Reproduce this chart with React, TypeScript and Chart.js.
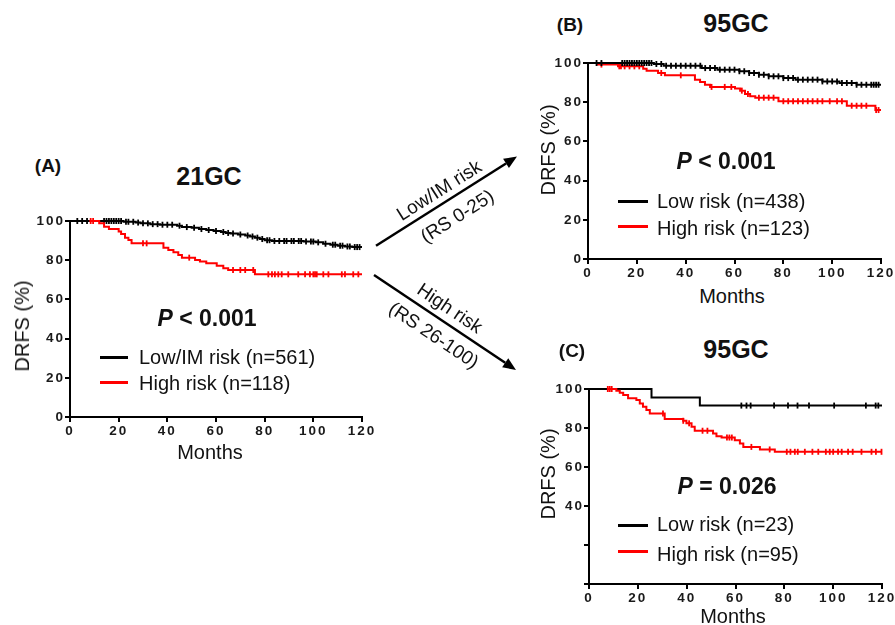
import React, { useEffect, useRef } from 'react';
import { Chart, registerables } from 'chart.js';

Chart.register(...registerables);

const FONT = '"Liberation Sans", Arial, Helvetica, sans-serif';
const BLACK = '#000000';
const RED = '#ff0000';

// ---------- Panel A (21GC) ----------
const aLowTimes = [0, 22, 27, 29, 33, 37, 44, 46, 50, 53, 56, 59, 62, 64, 66, 69, 72, 74, 76, 78, 80, 83, 96, 101, 104, 107, 110, 113, 116, 120];
const aLowSurv = [100, 99.6, 99.2, 98.8, 98.4, 98.1, 97.6, 96.9, 96.5, 95.9, 95.4, 94.9, 94.4, 93.9, 93.6, 93.1, 92.6, 92.1, 91.5, 90.8, 90.2, 89.8, 89.5, 89.1, 88.4, 87.9, 87.4, 87.0, 86.7, 86.7];
const aLowCensor = [3, 5, 7, 14, 15, 16, 17, 18, 19, 20, 21, 23, 24, 26, 28, 30, 32, 34, 36, 38, 40, 42, 45, 48, 51, 54, 57, 60, 63, 65, 67, 70, 73, 75, 77, 79, 81, 82, 84, 86, 88, 89, 91, 92, 94, 95, 97, 99, 100, 102, 105, 108, 109, 111, 112, 114, 115, 117, 118, 119];

const aHighTimes = [8, 12, 14, 16, 20, 21, 22.6, 24, 25.3, 38.4, 40.4, 42.5, 44.5, 46, 51.4, 53.4, 56, 60.3, 63, 65, 76, 120];
const aHighSurv = [100, 98.8, 97.1, 95.9, 94.6, 93.4, 91.5, 90.3, 88.6, 86.4, 85.2, 84, 82.7, 81.3, 80.1, 79.3, 78.4, 77.2, 75.9, 75, 72.8, 72.8];
const aHighCensor = [8.5, 9.5, 30, 31.5, 49, 67, 70, 72, 75.3, 81.5, 83, 84.2, 85.6, 87, 89.7, 93.8, 96.6, 98.6, 100, 100.7, 101.4, 104.1, 106.2, 111.7, 113, 116.4, 118.5];

// ---------- Panel B (95GC, Low/IM by 21GC) ----------
const bLowTimes = [0, 27, 31, 46.6, 53, 62, 66, 70, 74, 80, 85, 96, 103, 110, 120];
const bLowSurv = [100, 99.5, 98.6, 97.4, 96.6, 95.8, 94.9, 94.0, 93.2, 92.3, 91.5, 90.6, 89.8, 88.9, 88.9];
const bLowCensor = [3.5, 5.5, 14, 15, 16, 17, 18, 19, 20, 21, 22, 23, 24, 25, 26, 28, 30, 32, 34, 36, 38, 40, 42, 44, 46, 48, 50, 52, 54, 56, 58, 60, 62, 64, 66, 68, 70, 72, 74, 76, 78, 80, 82, 84, 86, 88, 90, 92, 94, 96, 98, 100, 102, 104, 106, 108, 110, 112, 114, 116, 117, 118, 119];

const bHighTimes = [0, 4, 12.3, 22.6, 24, 28.7, 31.5, 43.8, 45.9, 47.9, 50, 60.2, 62.3, 64.3, 66.4, 68.5, 78, 106, 117.7, 120];
const bHighSurv = [100, 99.2, 98.3, 97.1, 96, 94.9, 93.7, 91.5, 90.3, 88.9, 87.8, 87, 85.9, 84.2, 83, 82.3, 80.5, 78.2, 76, 76];
const bHighCensor = [5.5, 12.8, 13.5, 15, 17, 19, 21, 30, 38, 50.6, 56, 58.7, 63, 65.5, 70, 72, 74, 76, 80, 82, 84, 86, 88, 90, 92, 94, 96, 99, 102, 104, 108, 110, 112, 114, 118, 119];

// ---------- Panel C (95GC, High by 21GC) ----------
const cLowTimes = [0, 25.6, 45.4, 120];
const cLowSurv = [100, 95.7, 91.5, 91.5];
const cLowCensor = [62.4, 64.5, 66.2, 75.8, 81.5, 85.4, 90.1, 100.4, 113.4, 117.4, 118.5];

const cHighTimes = [7.7, 11.2, 12.6, 14, 16, 19.4, 20.8, 22.1, 23.5, 24.9, 31, 38.6, 39.9, 42, 43.3, 50.8, 52.2, 54.3, 59.7, 61.8, 63.2, 70, 76.1, 120];
const cHighSurv = [100, 99.1, 98.1, 96.9, 95.2, 94.4, 92.6, 90.9, 89.2, 87.5, 84.6, 83.7, 82.4, 80.7, 78.6, 77.2, 75.8, 75.1, 73.7, 72, 70.3, 69, 67.8, 67.8];
const cHighCensor = [7.7, 8.5, 9.3, 30.3, 38.6, 41, 46.5, 48.5, 56.5, 57.5, 58.5, 66.5, 74, 81, 82.5, 84.3, 85.5, 88.4, 91.5, 93.9, 97, 98.6, 100, 102, 103.5, 106.1, 108, 111.6, 115.7, 117.5, 119.8];

// axis ranges
const X_MIN = 0, X_MAX = 120, X_STEP = 20;
const Y_MIN = 0, Y_MAX = 100, Y_STEP = 20;

type Curve = { times: number[]; surv: number[]; censor: number[]; color: string };

function survAt(times: number[], surv: number[], t: number) {
  let v = surv[0];
  for (let i = 0; i < times.length; i++) {
    if (times[i] <= t) v = surv[i];
    else break;
  }
  return v;
}

function buildDatasets(curves: Curve[]) {
  // first curve is drawn on top
  const ds: any[] = [];
  curves.forEach((c) => {
    ds.push({
      type: 'scatter',
      data: c.censor.map((t) => ({ x: t, y: survAt(c.times, c.surv, t) })),
      pointStyle: 'line',
      pointRotation: 90,
      pointRadius: 3,
      pointHoverRadius: 3,
      pointBorderColor: c.color,
      pointBackgroundColor: c.color,
      pointBorderWidth: 1.8,
      showLine: false,
      clip: false,
    });
    ds.push({
      type: 'line',
      data: c.times.map((t, i) => ({ x: t, y: c.surv[i] })),
      stepped: true,
      borderColor: c.color,
      borderWidth: 2,
      pointRadius: 0,
      pointHoverRadius: 0,
      fill: false,
      clip: false,
    });
  });
  return ds;
}

const TICK_FONT = { family: FONT, size: 13.5, weight: 'bold' as const };

function axisOpts(min: number, max: number, step: number, size: number, isY: boolean, labelMin?: number) {
  return {
    type: 'linear' as const,
    min,
    max,
    ticks: {
      stepSize: step,
      color: '#1a1a1a',
      font: TICK_FONT,
      padding: isY ? 0 : 1,
      maxRotation: 0,
      autoSkip: false,
      callback: (v: any) => (labelMin !== undefined && Number(v) < labelMin ? '' : String(v)),
    },
    grid: { drawOnChartArea: false, drawTicks: true, tickLength: 5, color: '#000', lineWidth: 2 },
    border: { display: true, color: '#000', width: 2 },
    afterFit: (s: any) => {
      if (isY) s.width = size;
      else s.height = size;
    },
  };
}

const spacingPlugin = {
  id: 'tickSpacing',
  beforeDraw(chart: any) {
    chart.ctx.letterSpacing = '2px';
  },
  afterDraw(chart: any) {
    chart.ctx.letterSpacing = '0px';
  },
};

type PanelProps = {
  left: number;
  top: number;
  plotW: number;
  plotH: number;
  yW: number;
  xH: number;
  padTop: number;
  padR: number;
  curves: Curve[];
  yLabelMin?: number;
};

function KMPanel(p: PanelProps) {
  const ref = useRef<HTMLCanvasElement | null>(null);
  const width = p.yW + p.plotW + p.padR;
  const height = p.padTop + p.plotH + p.xH;
  useEffect(() => {
    if (!ref.current) return;
    const chart = new Chart(ref.current, {
      type: 'scatter',
      data: { datasets: buildDatasets(p.curves) },
      options: {
        responsive: false,
        animation: false,
        events: [],
        layout: { padding: { top: p.padTop, right: p.padR, left: 0, bottom: 0 } },
        plugins: { legend: { display: false }, tooltip: { enabled: false }, title: { display: false } },
        scales: {
          x: axisOpts(X_MIN, X_MAX, X_STEP, p.xH, false),
          y: axisOpts(Y_MIN, Y_MAX, Y_STEP, p.yW, true, p.yLabelMin),
        },
      } as any,
      plugins: [spacingPlugin],
    });
    return () => chart.destroy();
  }, []);
  return (
    <canvas
      ref={ref}
      width={width}
      height={height}
      style={{ position: 'absolute', left: p.left, top: p.top, width, height }}
    />
  );
}

type TProps = {
  x: number;
  y: number;
  size?: number;
  bold?: boolean;
  rot?: number;
  align?: 'center' | 'left';
  children: React.ReactNode;
};

function T({ x, y, size = 20, bold = false, rot = 0, align = 'center', children }: TProps) {
  const tx = align === 'center' ? '-50%' : '0';
  return (
    <div
      style={{
        position: 'absolute',
        left: x,
        top: y,
        transform: `translate(${tx}, -50%) rotate(${rot}deg)`,
        transformOrigin: align === 'center' ? '50% 50%' : '0 50%',
        fontFamily: FONT,
        fontSize: size,
        fontWeight: bold ? 700 : 400,
        lineHeight: 1,
        whiteSpace: 'nowrap',
        color: '#111',
      }}
    >
      {children}
    </div>
  );
}

function Swatch({ x1, x2, y, color }: { x1: number; x2: number; y: number; color: string }) {
  return (
    <div style={{ position: 'absolute', left: x1, top: y - 1.5, width: x2 - x1, height: 3, background: color }} />
  );
}

function Arrow({ x1, y1, x2, y2 }: { x1: number; y1: number; x2: number; y2: number }) {
  const ang = Math.atan2(y2 - y1, x2 - x1);
  const L = 13;
  const W = 5.5;
  const bx = x2 - L * Math.cos(ang);
  const by = y2 - L * Math.sin(ang);
  const px = -Math.sin(ang) * W;
  const py = Math.cos(ang) * W;
  return (
    <g>
      <line x1={x1} y1={y1} x2={bx} y2={by} stroke="#000" strokeWidth={2.5} />
      <polygon points={`${x2},${y2} ${bx + px},${by + py} ${bx - px},${by - py}`} fill="#000" />
    </g>
  );
}

export default function App() {
  return (
    <div style={{ position: 'absolute', left: 0, top: 0, width: 895, height: 625, background: '#fff', overflow: 'hidden' }}>
      {/* Panel A */}
      <KMPanel
        left={30}
        top={211}
        plotW={292}
        plotH={196}
        yW={40}
        xH={25}
        padTop={10}
        padR={20}
        curves={[
          { times: aHighTimes, surv: aHighSurv, censor: aHighCensor, color: RED },
          { times: aLowTimes, surv: aLowSurv, censor: aLowCensor, color: BLACK },
        ]}
      />
      {/* Panel B */}
      <KMPanel
        left={548}
        top={53}
        plotW={293}
        plotH={196}
        yW={40}
        xH={25}
        padTop={10}
        padR={14}
        curves={[
          { times: bLowTimes, surv: bLowSurv, censor: bLowCensor, color: BLACK },
          { times: bHighTimes, surv: bHighSurv, censor: bHighCensor, color: RED },
        ]}
      />
      {/* Panel C */}
      <KMPanel
        left={549}
        top={379}
        plotW={293}
        plotH={195}
        yW={40}
        xH={25}
        padTop={10}
        padR={13}
        yLabelMin={40}
        curves={[
          { times: cHighTimes, surv: cHighSurv, censor: cHighCensor, color: RED },
          { times: cLowTimes, surv: cLowSurv, censor: cLowCensor, color: BLACK },
        ]}
      />

      {/* Panel A texts */}
      <T x={48} y={165} size={19} bold>(A)</T>
      <T x={209} y={176} size={25} bold>21GC</T>
      <T x={207} y={318} size={23} bold><i>P</i> &lt; 0.001</T>
      <Swatch x1={100} x2={128} y={357.5} color={BLACK} />
      <T x={139} y={357} align="left">Low/IM risk (n=561)</T>
      <Swatch x1={100} x2={128} y={382.5} color={RED} />
      <T x={139} y={383} align="left">High risk (n=118)</T>
      <T x={22} y={326} rot={-90}>DRFS (%)</T>
      <T x={210} y={452}>Months</T>

      {/* Panel B texts */}
      <T x={570} y={24} size={19} bold>(B)</T>
      <T x={736} y={23} size={25} bold>95GC</T>
      <T x={726} y={161} size={23} bold><i>P</i> &lt; 0.001</T>
      <Swatch x1={618} x2={648} y={201.5} color={BLACK} />
      <T x={657} y={201} align="left">Low risk (n=438)</T>
      <Swatch x1={618} x2={648} y={226.5} color={RED} />
      <T x={657} y={228} align="left">High risk (n=123)</T>
      <T x={548} y={150} rot={-90}>DRFS (%)</T>
      <T x={732} y={296}>Months</T>

      {/* Panel C texts */}
      <T x={572} y={350} size={19} bold>(C)</T>
      <T x={736} y={349} size={25} bold>95GC</T>
      <T x={727} y={486} size={23} bold><i>P</i> = 0.026</T>
      <Swatch x1={618} x2={648} y={525} color={BLACK} />
      <T x={657} y={524} align="left">Low risk (n=23)</T>
      <Swatch x1={618} x2={648} y={551} color={RED} />
      <T x={657} y={554} align="left">High risk (n=95)</T>
      <T x={548} y={474} rot={-90}>DRFS (%)</T>
      <T x={733} y={616}>Months</T>

      {/* Arrows */}
      <svg width={895} height={625} style={{ position: 'absolute', left: 0, top: 0, pointerEvents: 'none' }}>
        <Arrow x1={376} y1={245.7} x2={517} y2={156.5} />
        <Arrow x1={374} y1={275} x2={516} y2={370} />
      </svg>
      <T x={439} y={190} size={19} rot={-32.3}>Low/IM risk</T>
      <T x={457} y={216} size={19} rot={-32.3}>(RS 0-25)</T>
      <T x={450} y={308} size={19} rot={33.8}>High risk</T>
      <T x={434} y={335} size={19} rot={33.8}>(RS 26-100)</T>
    </div>
  );
}
